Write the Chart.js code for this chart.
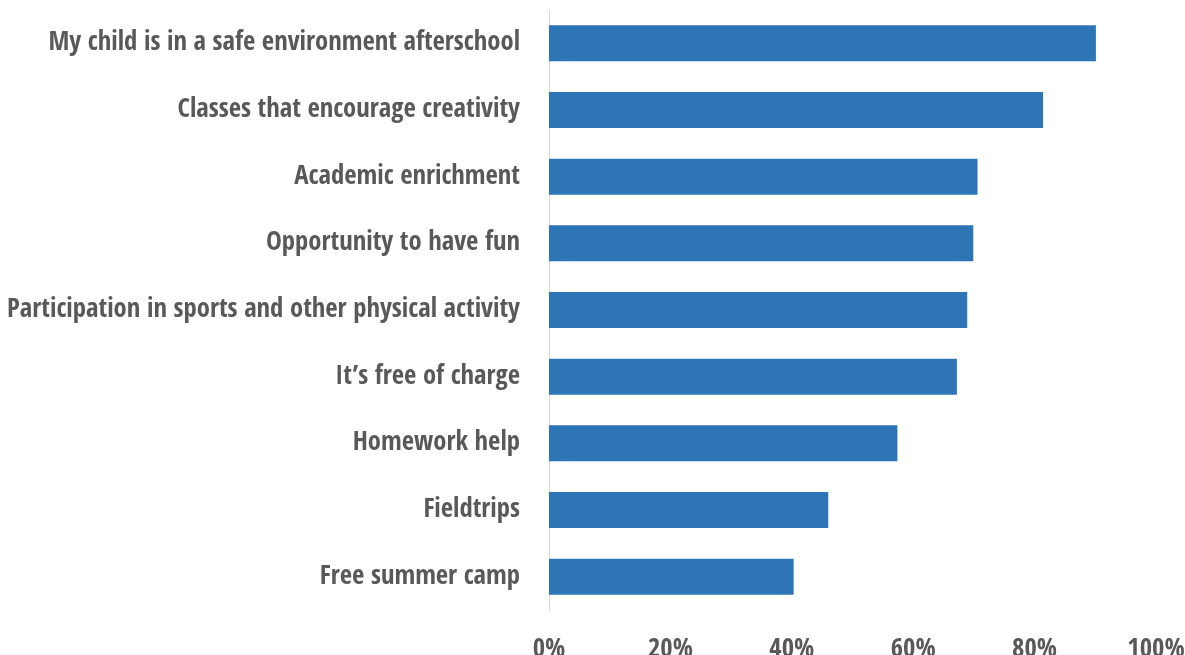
<!DOCTYPE html>
<html>
<head>
<meta charset="utf-8">
<script src="https://cdn.jsdelivr.net/npm/chart.js@4.4.1/dist/chart.umd.min.js"></script>
<style>
    html, body {
        margin: 0;
        padding: 0;
        background: #ffffff;
    }
    #wrap {
        width: 1185px;
        height: 655px;
    }
</style>
</head>
<body>
<div id="wrap"><canvas id="reasons-chart" width="1185" height="655"></canvas></div>
<script>
const reasons = [
    "My child is in a safe environment afterschool",
    "Classes that encourage creativity",
    "Academic enrichment",
    "Opportunity to have fun",
    "Participation in sports and other physical activity",
    "It\u2019s free of charge",
    "Homework help",
    "Fieldtrips",
    "Free summer camp",
];
const shares = [90.1, 81.4, 70.6, 69.9, 68.9, 67.2, 57.4, 46.0, 40.3];
const percentTicks = [0, 20, 40, 60, 80, 100];

const labelFont = {
    family: "'Open Sans Condensed', 'Open Sans', sans-serif",
    size: 26.7,
    weight: "bold",
};

function renderChart() {
    const ctx = document.getElementById("reasons-chart").getContext("2d");
    const reasonsChart = new Chart(ctx, {
        type: "bar",
        data: {
            labels: reasons,
            datasets: [{
                data: shares,
                backgroundColor: "#2e75b6",
                borderWidth: 0,
                categoryPercentage: 1,
                barPercentage: 0.54,
            }]
        },
        options: {
            indexAxis: "y",
            responsive: false,
            animation: false,
            layout: {
                padding: {
                    top: 10,
                    bottom: 0,
                    left: 0,
                    right: 29,
                }
            },
            scales: {
                x: {
                    min: 0,
                    max: 100,
                    afterBuildTicks: (scale) => {
                        scale.ticks = percentTicks.map((v) => ({ value: v }));
                    },
                    afterFit: (scale) => {
                        // fixed strip under the bars, no extra side padding
                        scale.height = 45;
                        scale.paddingLeft = 0;
                        scale.paddingRight = 0;
                    },
                    grid: {
                        display: false,
                    },
                    border: {
                        display: false,
                    },
                    ticks: {
                        padding: 16,
                        color: "#595959",
                        font: labelFont,
                        maxRotation: 0,
                        callback: (value) => `${value}%`,
                    },
                },
                y: {
                    afterFit: (scale) => {
                        // labels sit in a fixed-width column left of the axis line
                        scale.width = 549;
                        scale.paddingTop = 0;
                        scale.paddingBottom = 0;
                    },
                    grid: {
                        display: true,
                        drawOnChartArea: false,
                        drawTicks: false,
                    },
                    border: {
                        display: true,
                        color: "#d9d9d9",
                        width: 1,
                    },
                    ticks: {
                        padding: 29,
                        color: "#595959",
                        font: labelFont,
                    },
                },
            },
            plugins: {
                legend: {
                    display: false,
                },
                tooltip: {
                    enabled: false,
                },
            },
        },
    });
}

renderChart();
</script>
</body>
</html>
